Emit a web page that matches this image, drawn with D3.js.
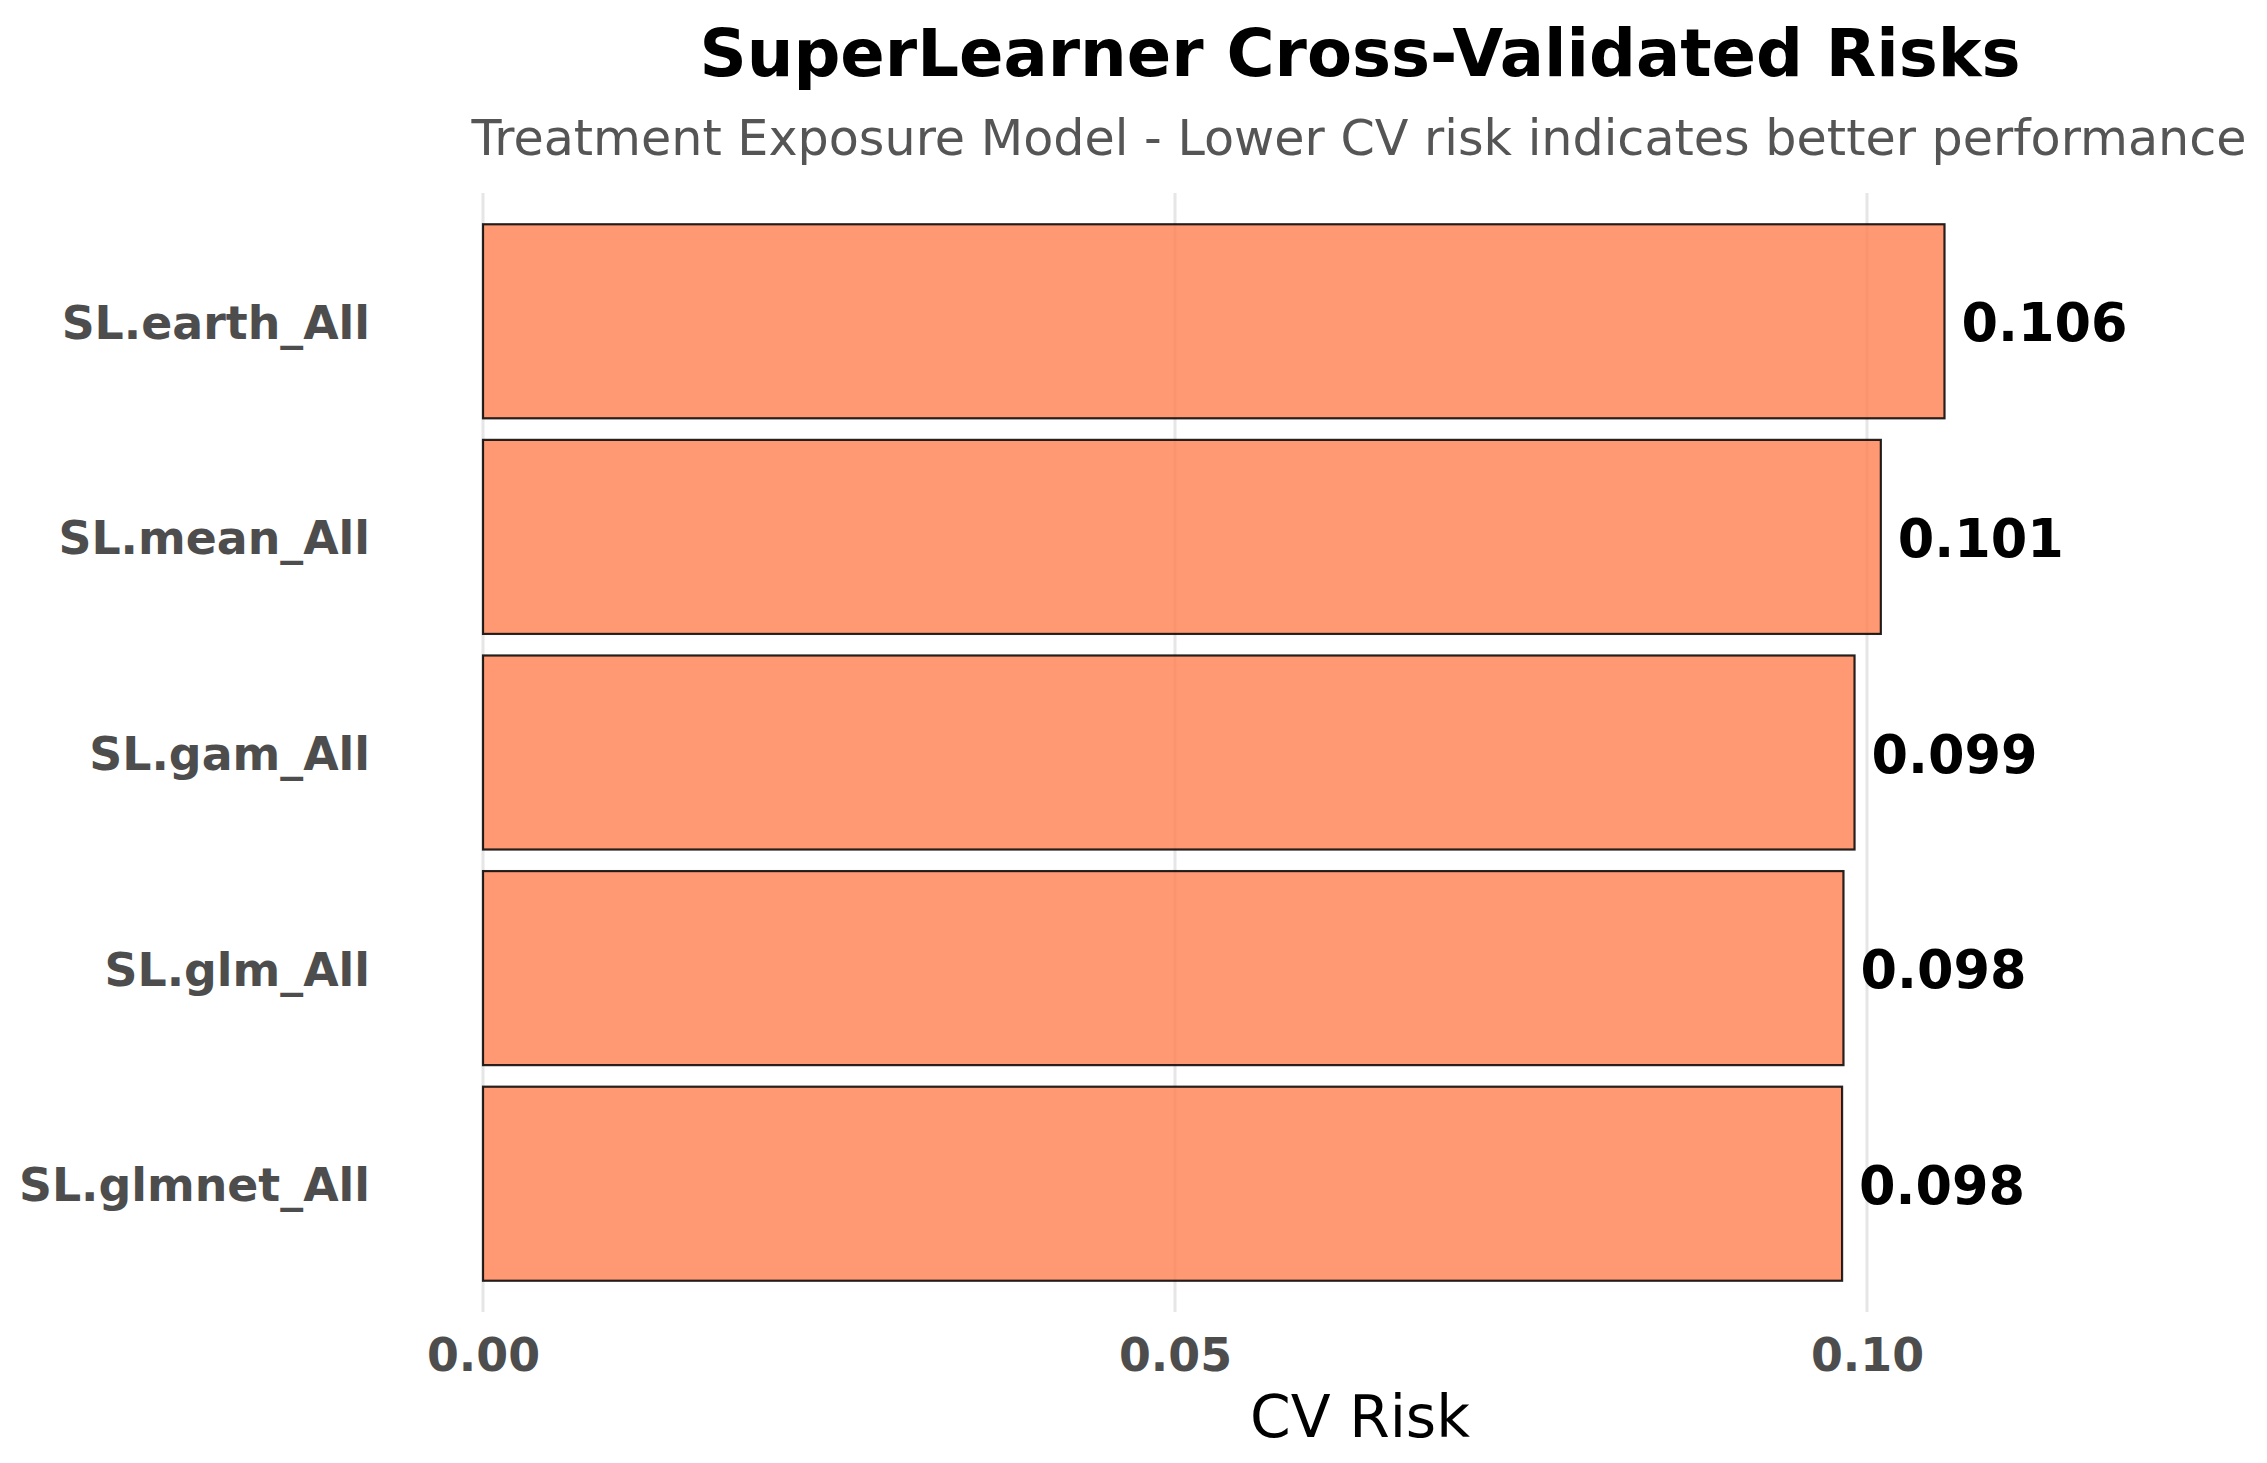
<!DOCTYPE html>
<html>
<head>
<meta charset="utf-8">
<script src="https://cdn.jsdelivr.net/npm/d3@7"></script>
<style>
  html, body { margin: 0; padding: 0; background: #fff; }
  svg { display: block; }
  text { font-family: "DejaVu Sans", sans-serif; }
</style>
</head>
<body>
<script>
const learners = ["SL.earth_All", "SL.mean_All", "SL.gam_All", "SL.glm_All", "SL.glmnet_All"];
const cvRisk = [0.1056, 0.1010, 0.0991, 0.0983, 0.0982];
const xTicks = [0.00, 0.05, 0.10];
const titleText = "SuperLearner Cross-Validated Risks";
const subtitleText = "Treatment Exposure Model - Lower CV risk indicates better performance";
const xLabel = "CV Risk";

const W = 2267, H = 1463;
const svg = d3.select("body").append("svg").attr("width", W).attr("height", H);

const plotTop = 193, plotBottom = 1312;
const x = d3.scaleLinear().domain([0, 0.1]).range([483, 1867]);
const y = d3.scaleBand().domain(learners).range([plotTop, plotBottom])
  .paddingInner(0.1).paddingOuter(0.145);

// grid
svg.append("g").selectAll("line").data(xTicks).join("line")
  .attr("x1", d => x(d)).attr("x2", d => x(d))
  .attr("y1", plotTop).attr("y2", plotBottom)
  .attr("stroke", "#e6e6e6").attr("stroke-width", 3);

// bars
const data = learners.map((l, i) => ({ l, v: cvRisk[i] }));
svg.append("g").selectAll("rect").data(data).join("rect")
  .attr("x", x(0)).attr("y", d => y(d.l))
  .attr("width", d => x(d.v) - x(0)).attr("height", y.bandwidth())
  .attr("fill", "#FF7F50").attr("fill-opacity", 0.8)
  .attr("stroke", "#000").attr("stroke-opacity", 0.85).attr("stroke-width", 2.2);

// value labels
svg.append("g").selectAll("text").data(data).join("text")
  .attr("x", d => x(d.v) + 17)
  .attr("y", d => y(d.l) + y.bandwidth() / 2 + 20)
  .attr("font-size", 52.5).attr("font-weight", "bold").attr("fill", "#000")
  .text(d => d3.format(".3f")(d.v));

// x axis
const xAxis = svg.append("g").attr("transform", `translate(0,1300)`)
  .call(d3.axisBottom(x).tickValues(xTicks).tickFormat(d3.format(".2f")).tickSize(0));
xAxis.select(".domain").remove();
xAxis.selectAll("text").attr("y", 71).attr("dy", 0)
  .attr("font-size", 45.8).attr("font-weight", "bold").attr("fill", "#4d4d4d")
  .attr("font-family", "DejaVu Sans");

// y axis
const yAxis = svg.append("g").attr("transform", `translate(483,0)`)
  .call(d3.axisLeft(y).tickSize(0).tickPadding(113));
yAxis.select(".domain").remove();
yAxis.selectAll("text").attr("dy", "0.38em").attr("font-size", 45.8).attr("font-weight", "bold")
  .attr("fill", "#4d4d4d").attr("font-family", "DejaVu Sans");

// titles
svg.append("text").attr("x", 1360).attr("y", 76).attr("text-anchor", "middle")
  .attr("font-size", 65.6).attr("font-weight", "bold").attr("fill", "#000")
  .text(titleText);
svg.append("text").attr("x", 1359).attr("y", 155).attr("text-anchor", "middle")
  .attr("font-size", 49.2).attr("fill", "#555555")
  .text(subtitleText);
svg.append("text").attr("x", 1360).attr("y", 1437).attr("text-anchor", "middle")
  .attr("font-size", 58.3).attr("fill", "#000")
  .text(xLabel);
</script>
</body>
</html>
